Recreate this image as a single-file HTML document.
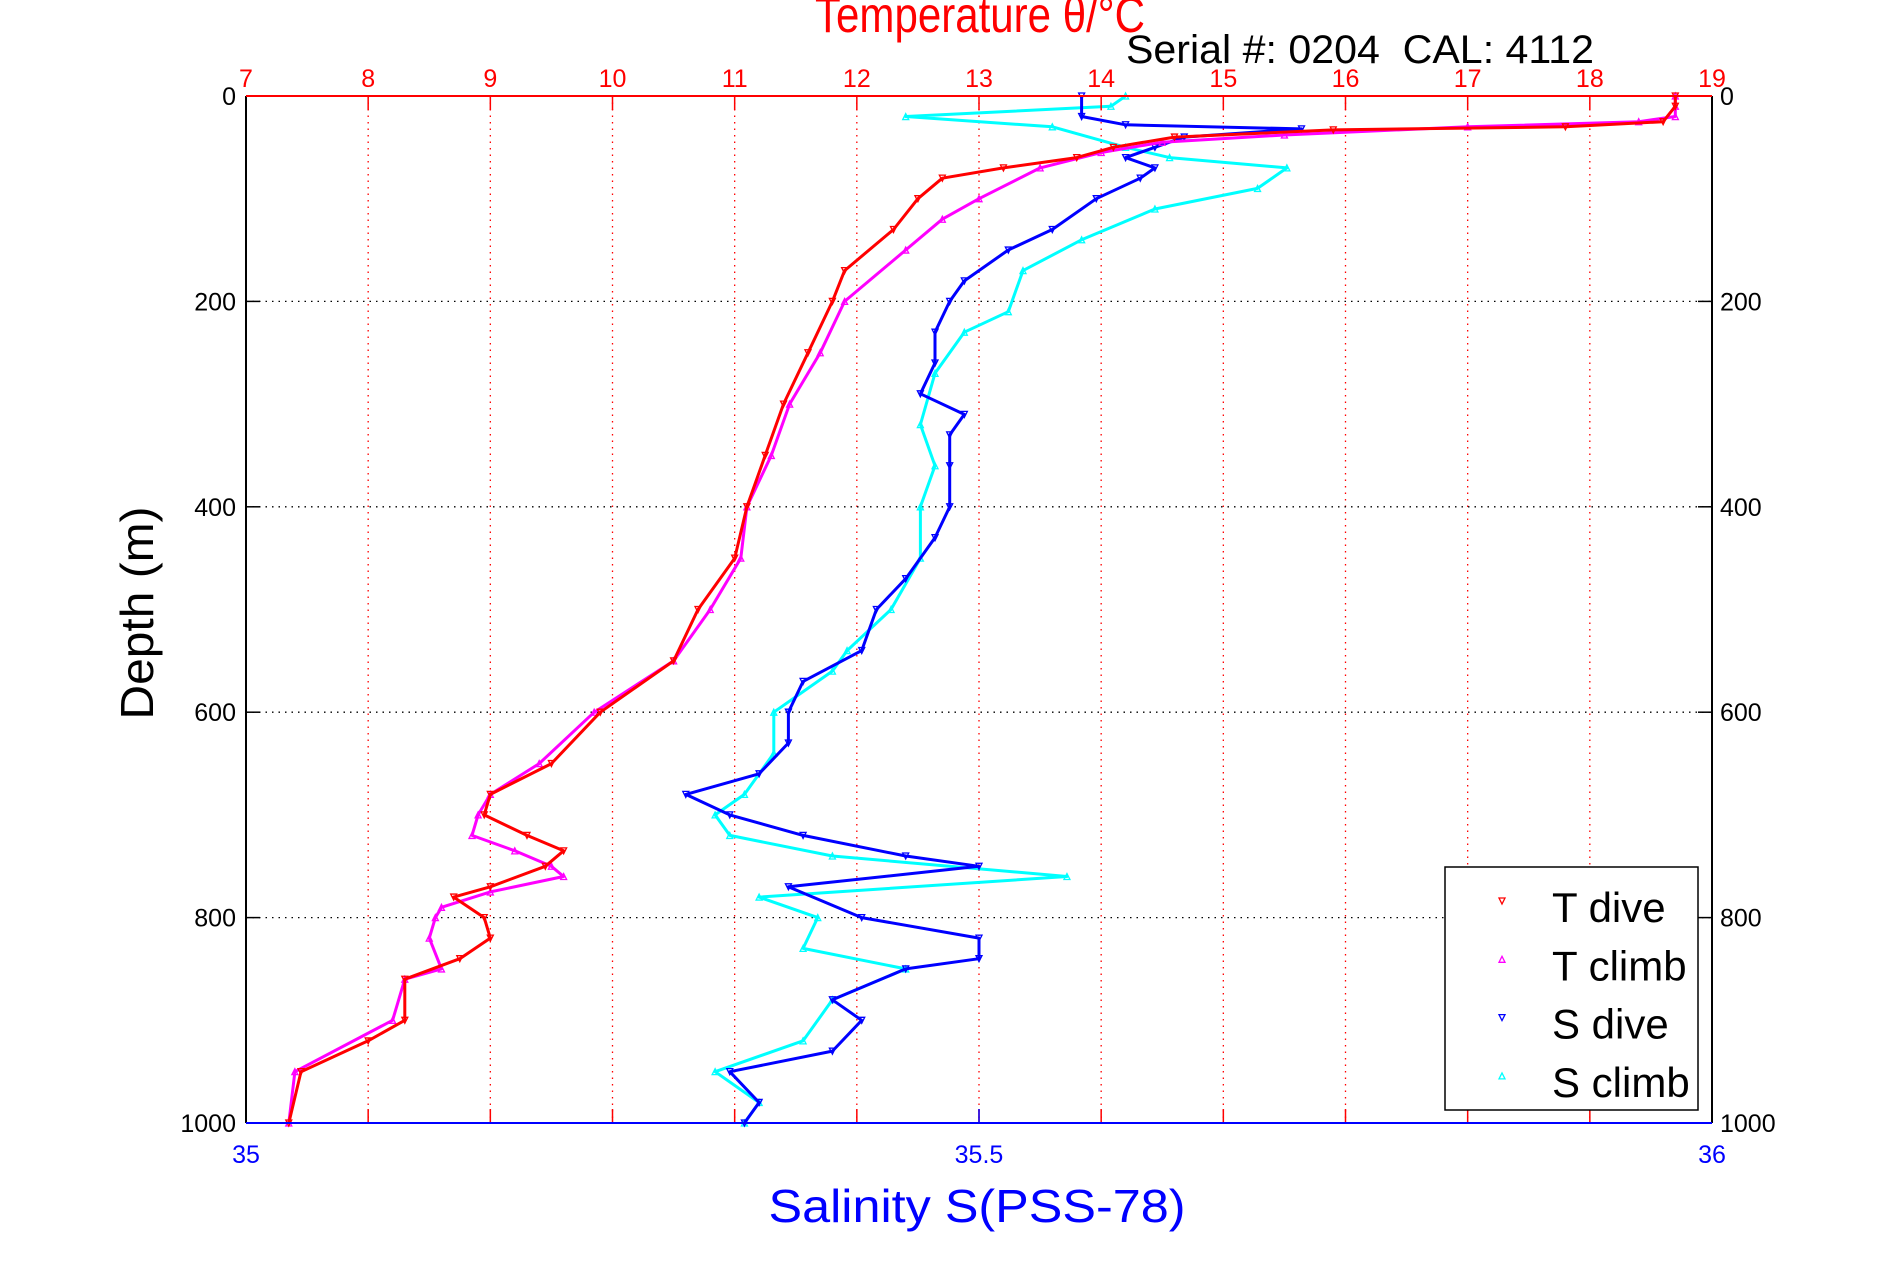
<!DOCTYPE html>
<html><head><meta charset="utf-8"><style>
html,body{margin:0;padding:0;background:#fff;}
svg{display:block;font-family:"Liberation Sans",sans-serif;}
</style></head><body>
<svg id="chart" width="1891" height="1262" viewBox="0 0 1891 1262" xmlns="http://www.w3.org/2000/svg">
<rect x="0" y="0" width="1891" height="1262" fill="#fff"/>
<g id="grid"></g>
<g id="data"></g>
<g id="axes"></g>
<text x="980" y="32" fill="#f00" font-size="50" text-anchor="middle" textLength="330" lengthAdjust="spacingAndGlyphs">Temperature θ/°C</text>
<text x="1126" y="63" fill="#000" font-size="40" textLength="468" lengthAdjust="spacingAndGlyphs">Serial #: 0204&#160; CAL: 4112</text>
<text transform="translate(153,613) rotate(-90)" fill="#000" font-size="46" text-anchor="middle" textLength="213" lengthAdjust="spacingAndGlyphs">Depth (m)</text>
<text x="977" y="1222" fill="#00f" font-size="46" text-anchor="middle" textLength="417" lengthAdjust="spacingAndGlyphs">Salinity S(PSS-78)</text>
<g>
<rect x="1445" y="867" width="253" height="243" fill="#fff" stroke="#000" stroke-width="1.5"/>
<g id="legendItems"></g>
</g>
</svg>
<script>
// Temperature dive
const tDiveDepth = [0,10,25,30,33,40,50,60,70,80,100,130,170,200,250,300,350,400,450,500,550,600,650,680,700,720,735,750,770,780,800,820,840,860,900,920,950,1000];
const tDiveVal   = [18.7,18.7,18.6,17.8,15.9,14.6,14.1,13.8,13.2,12.7,12.5,12.3,11.9,11.8,11.6,11.4,11.25,11.1,11.0,10.7,10.5,9.9,9.5,9.0,8.95,9.3,9.6,9.45,9.0,8.7,8.95,9.0,8.75,8.3,8.3,8.0,7.45,7.35];
// Temperature climb
const tClimbDepth = [0,10,20,25,30,38,45,55,70,100,120,150,200,250,300,350,400,450,500,550,600,650,680,700,720,735,750,760,775,790,800,820,850,860,900,950,1000];
const tClimbVal   = [18.7,18.7,18.7,18.4,17.0,15.5,14.5,14.0,13.5,13.0,12.7,12.4,11.9,11.7,11.45,11.3,11.1,11.05,10.8,10.5,9.85,9.4,9.0,8.9,8.85,9.2,9.5,9.6,9.0,8.6,8.55,8.5,8.6,8.3,8.2,7.4,7.35];
// Salinity dive
const sDiveDepth = [0,20,28,32,40,50,60,70,80,100,130,150,180,200,230,260,290,310,330,360,400,430,470,500,540,570,600,630,660,680,700,720,740,750,770,800,820,840,850,880,900,930,950,980,1000];
const sDiveVal   = [35.57,35.57,35.6,35.72,35.64,35.62,35.6,35.62,35.61,35.58,35.55,35.52,35.49,35.48,35.47,35.47,35.46,35.49,35.48,35.48,35.48,35.47,35.45,35.43,35.42,35.38,35.37,35.37,35.35,35.3,35.33,35.38,35.45,35.5,35.37,35.42,35.5,35.5,35.45,35.4,35.42,35.4,35.33,35.35,35.34];
// Salinity climb
const sClimbDepth = [0,10,20,30,50,60,70,90,110,140,170,210,230,270,320,360,400,450,500,540,560,600,640,680,700,720,740,760,780,800,830,850,880,920,950,980,1000];
const sClimbVal   = [35.6,35.59,35.45,35.55,35.6,35.63,35.71,35.69,35.62,35.57,35.53,35.52,35.49,35.47,35.46,35.47,35.46,35.46,35.44,35.41,35.40,35.36,35.36,35.34,35.32,35.33,35.4,35.56,35.35,35.39,35.38,35.45,35.4,35.38,35.32,35.35,35.34];
const tTicks = [7,8,9,10,11,12,13,14,15,16,17,18,19];
const dTicks = [0,200,400,600,800,1000];
const sTicks = ["35","35.5","36"];

const L=246,R=1712,T=96,B=1123;
const xT = t => L + (t-7)/12*(R-L);
const xS = s => L + (s-35)*(R-L);
const yD = d => T + d/1000*(B-T);
const NS="http://www.w3.org/2000/svg";
function mk(tag, attrs, parent){const e=document.createElementNS(NS,tag);for(const k in attrs)e.setAttribute(k,attrs[k]);parent.appendChild(e);return e;}
const grid=document.getElementById('grid'), axes=document.getElementById('axes'), data=document.getElementById('data');

tTicks.forEach(t=>{
  const x=xT(t);
  if(t>7&&t<19){
    const g=mk('line',{x1:x,y1:T,x2:x,y2:B,stroke:'#f00','stroke-width':1.3,'stroke-dasharray':'1.5,5'},grid);
    
    
    mk('line',{x1:x,y1:T,x2:x,y2:T+14,stroke:'#f00','stroke-width':1.5},axes);
    mk('line',{x1:x,y1:B,x2:x,y2:B-14,stroke:'#f00','stroke-width':1.5},axes);
  }
  const lb=mk('text',{x:x,y:87,fill:'#f00','font-size':25,'text-anchor':'middle'},axes);
  lb.textContent=t;
  
  
});
dTicks.forEach(d=>{
  const y=yD(d);
  if(d>0&&d<1000){
    const g=mk('line',{x1:L,y1:y,x2:R,y2:y,stroke:'#000','stroke-width':1.3,'stroke-dasharray':'1.5,5'},grid);
    
    
    mk('line',{x1:L,y1:y,x2:L+14,y2:y,stroke:'#000','stroke-width':1.5},axes);
    mk('line',{x1:R,y1:y,x2:R-14,y2:y,stroke:'#000','stroke-width':1.5},axes);
  }
  const a=mk('text',{x:236,y:y+9,fill:'#000','font-size':25,'text-anchor':'end'},axes);
  a.textContent=d;
  
  
  const b=mk('text',{x:1720,y:y+9,fill:'#000','font-size':25},axes);
  b.textContent=d;
  
  
});
sTicks.forEach(s=>{
  const x=xS(parseFloat(s));
  mk('line',{x1:x,y1:B,x2:x,y2:B-14,stroke:'#00f','stroke-width':1.5},axes);
  const lb=mk('text',{x:x,y:1163,fill:'#00f','font-size':25,'text-anchor':'middle'},axes);
  lb.textContent=s;
  
  
});
mk('line',{x1:L,y1:T,x2:L,y2:B,stroke:'#000','stroke-width':2},axes);
mk('line',{x1:R,y1:T,x2:R,y2:B,stroke:'#000','stroke-width':2},axes);
mk('line',{x1:L,y1:T,x2:R,y2:T,stroke:'#f00','stroke-width':2},axes);
mk('line',{x1:L,y1:B,x2:R,y2:B,stroke:'#00f','stroke-width':2},axes);

function tri(x,y,down,color,parent){
  const p = down ? `${x-3},${y-3} ${x+3},${y-3} ${x},${y+3}` : `${x-3},${y+3} ${x+3},${y+3} ${x},${y-3}`;
  return mk('polygon',{points:p,fill:'none',stroke:color,'stroke-width':1.3},parent);
}
function series(name,depths,vals,xf,color,down){
  const g=mk('g',{},data);
  
  
  const pts=depths.map((d,i)=>xf(vals[i]).toFixed(1)+','+yD(d).toFixed(1)).join(' ');
  mk('polyline',{points:pts,fill:'none',stroke:color,'stroke-width':3,'stroke-linejoin':'round'},g);
  depths.forEach((d,i)=>{tri(xf(vals[i]),yD(d),down,color,g);});
}
series('s-climb-series',sClimbDepth,sClimbVal,xS,'#0ff',false);
series('s-dive-series',sDiveDepth,sDiveVal,xS,'#00f',true);
series('t-climb-series',tClimbDepth,tClimbVal,xT,'#f0f',false);
series('t-dive-series',tDiveDepth,tDiveVal,xT,'#f00',true);

const legendLabels=["T dive","T climb","S dive","S climb"];
const legendColors=['#f00','#f0f','#00f','#0ff'];
const li=document.getElementById('legendItems');
legendLabels.forEach((lab,i)=>{
  const y=901+i*58.3;
  const g=mk('g',{},li);
  
  
  tri(1502,y,i%2===0,legendColors[i],g);
  const t=mk('text',{x:1552,y:y+21,fill:'#000','font-size':42},g);
  t.textContent=lab;
});
</script>
</body></html>
